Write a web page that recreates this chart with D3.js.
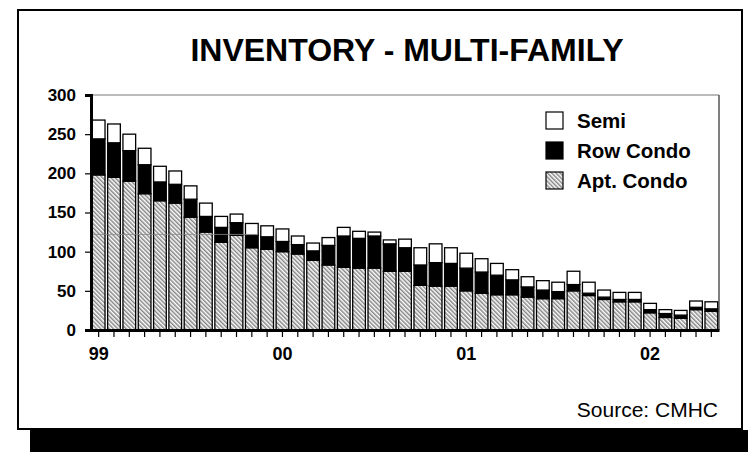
<!DOCTYPE html>
<html><head><meta charset="utf-8">
<script src="https://cdn.jsdelivr.net/npm/d3@7"></script>
<style>body{margin:0;background:#fff}svg{display:block}text{font-family:"Liberation Sans",Arial,sans-serif}</style>
</head><body><svg id="c" width="755" height="457"></svg>
<script>
const months = [];
const yearsShort = ["99","00","01","02"];
yearsShort.forEach(y => { for (let m = 1; m <= 12; m++) months.push(y + "-" + String(m).padStart(2,"0")); });
const categories = months.slice(0, 41); // Jan 1999 .. May 2002
const aptCondo = [198,195,190,174,165,162,144,125,112,121,105,103,100,97,89,83,80,79,79,75,75,57,56,56,50,47,45,45,42,40,40,50,44,39,36,36,22,16,15,26,24];
const rowCondo = [46,44,39,37,24,24,23,20,19,16,16,16,13,12,12,25,40,38,41,35,30,26,30,29,29,27,25,19,13,11,9,8,3,3,3,3,4,5,4,3,3];
const semi     = [24,24,21,21,20,17,17,17,14,11,15,14,16,11,10,10,11,9,5,5,11,22,24,20,19,17,15,13,13,12,12,17,14,9,9,9,8,5,6,8,9];
const yTicks = [0,50,100,150,200,250,300];
const yearLabels = ["99","00","01","02"];
const seriesNames = ["Semi","Row Condo","Apt. Condo"];

const svg = d3.select("#c");
const defs = svg.append("defs");
const pat = defs.append("pattern").attr("id","hatch").attr("patternUnits","userSpaceOnUse")
  .attr("width",3).attr("height",3).attr("patternTransform","rotate(-45)");
pat.append("rect").attr("width",3).attr("height",3).attr("fill","#fff");
pat.append("rect").attr("width",1.5).attr("height",3).attr("fill","#858585");

// shadow + frame
svg.append("rect").attr("x",30).attr("y",430).attr("width",718).attr("height",22).attr("fill","#000");
svg.append("rect").attr("x",18).attr("y",10).attr("width",724).attr("height",419).attr("fill","#fff").attr("stroke","#000").attr("stroke-width",2);

svg.append("text").attr("x",407).attr("y",61).attr("text-anchor","middle")
  .style("font-size","32px").style("font-weight","bold").text("INVENTORY - MULTI-FAMILY");

const L = 91, R = 719, T = 95, B = 330;
const x = d3.scaleBand().domain(categories).range([L, R]).paddingInner(0.17).paddingOuter(0.085);
const y = d3.scaleLinear().domain([0,300]).range([B, T]);

// plot border (thin)
svg.append("line").attr("x1",L).attr("x2",R).attr("y1",T).attr("y2",T).attr("stroke","#777").attr("stroke-width",1);
svg.append("line").attr("x1",R).attr("x2",R).attr("y1",T).attr("y2",B).attr("stroke","#555").attr("stroke-width",1.5);

const data = categories.map((c,i) => ({cat:c, apt:aptCondo[i], row:rowCondo[i], semi:semi[i]}));
const stack = d3.stack().keys(["apt","row","semi"])(data);
const fills = {apt:"url(#hatch)", row:"#000", semi:"#fff"};
stack.forEach(s => {
  svg.append("g").selectAll("rect").data(s).join("rect")
    .attr("x", d => x(d.data.cat)).attr("width", x.bandwidth())
    .attr("y", d => y(d[1])).attr("height", d => y(d[0]) - y(d[1]))
    .attr("fill", fills[s.key]).attr("stroke","#000").attr("stroke-width",1.3);
});

// faint horizontal line seen over first bars
svg.append("line").attr("x1",L).attr("x2",258).attr("y1",y(122)).attr("y2",y(122)).attr("stroke","#888").attr("stroke-width",0.8);

// y axis
const yAxis = svg.append("g").attr("transform",`translate(${L},0)`)
  .call(d3.axisLeft(y).tickValues(yTicks).tickSize(6).tickPadding(9));
yAxis.select(".domain").attr("stroke","#000").attr("stroke-width",3);
yAxis.selectAll(".tick line").attr("stroke","#000").attr("stroke-width",1.2);
yAxis.selectAll("text").style("font-size","17px").style("font-weight","bold").attr("fill","#000");

// x axis
const xAxis = svg.append("g").attr("transform",`translate(0,${B})`)
  .call(d3.axisBottom(x).tickSize(7).tickSizeOuter(0).tickFormat(d => d.endsWith("-01") ? d.slice(0,2) : ""));
xAxis.select(".domain").attr("stroke","#000").attr("stroke-width",3);
xAxis.selectAll(".tick line").attr("stroke","#000").attr("stroke-width",1.2);
xAxis.selectAll("text").attr("dy","1.1em").style("font-size","18px").style("font-weight","bold").attr("fill","#000");

// legend
const legFill = ["#fff","#000","url(#hatch)"];
const lg = svg.append("g");
seriesNames.forEach((n,i) => {
  const yy = 112 + i*30;
  lg.append("rect").attr("x",546).attr("y",yy).attr("width",17).attr("height",17)
    .attr("fill",legFill[i]).attr("stroke","#000").attr("stroke-width",1.2);
  lg.append("text").attr("x",577).attr("y",yy+16).style("font-size","20.5px").style("font-weight","bold").text(n);
});

svg.append("text").attr("x",718).attr("y",417).attr("text-anchor","end").style("font-size","21px").text("Source: CMHC");
</script></body></html>
